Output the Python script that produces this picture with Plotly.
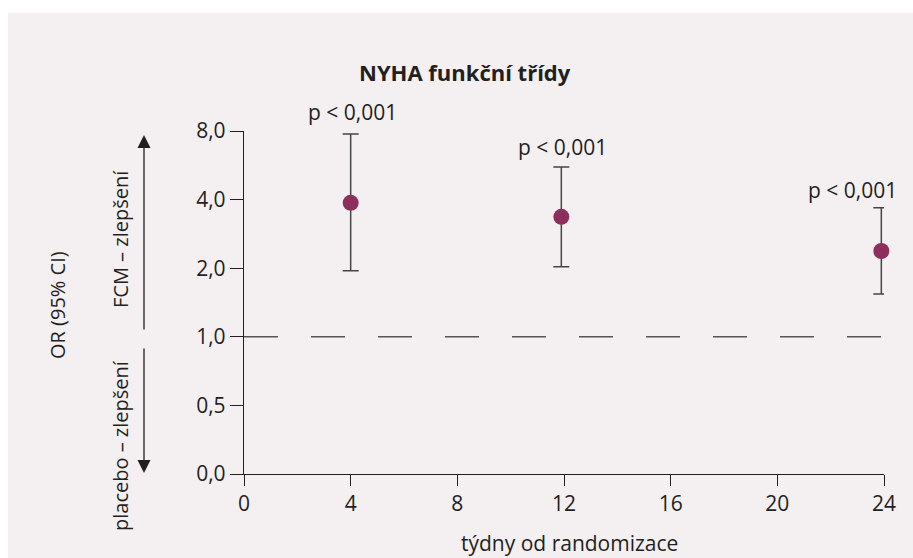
import math
import plotly.graph_objects as go

# týdny od randomizace, OR a 95% CI
weeks = [4, 11.9, 23.9]
odds_ratio = [3.87, 3.36, 2.38]
ci_upper = [7.76, 5.56, 3.68]
ci_lower = [1.95, 2.03, 1.54]
p_labels = ["p < 0,001", "p < 0,001", "p < 0,001"]

x_ticks = [0, 4, 8, 12, 16, 20, 24]
y_ticks = [0.25, 0.5, 1, 2, 4, 8]
y_ticktext = ["0,0", "0,5", "1,0", "2,0", "4,0", "8,0"]

BG = "#f4eff1"
INK = "#231f20"
FONT = "Open Sans"

W, H = 913, 558
L, R, T, B = 244, 29, 131, 84
PW, PH = W - L - R, H - T - B


def px(x):
    return (x - L) / PW


def py(y):
    return (H - B - y) / PH


def label(x, y, text, size, anchor="center", angle=0):
    return dict(x=px(x), y=py(y), xref="paper", yref="paper", text=text,
                showarrow=False, xanchor=anchor, yanchor="middle",
                textangle=angle, font=dict(size=size, color=INK, family=FONT))


fig = go.Figure()

fig.add_trace(go.Scatter(
    x=weeks, y=odds_ratio, mode="markers",
    marker=dict(size=16, color="#8c2f5c"),
    error_y=dict(type="data", symmetric=False,
                 array=[u - v for u, v in zip(ci_upper, odds_ratio)],
                 arrayminus=[v - lo for v, lo in zip(odds_ratio, ci_lower)],
                 color="#444444", thickness=1.5, width=8),
    cliponaxis=False, showlegend=False,
))

# referenční čára OR = 1
fig.add_trace(go.Scatter(
    x=[0, 24], y=[1, 1], mode="lines",
    line=dict(color="#555555", width=1.4, dash="34px,33px"),
    showlegend=False, hoverinfo="skip",
))

fig.update_xaxes(range=[0, 24], tickvals=x_ticks, showline=True, linecolor=INK,
                 linewidth=1.4, ticks="outside", ticklen=11, tickcolor=INK,
                 tickwidth=1.4, showgrid=False, zeroline=False,
                 tickfont=dict(size=21, color=INK, family=FONT))
fig.update_yaxes(type="log", range=[math.log10(0.25), math.log10(8)],
                 tickvals=y_ticks, ticktext=y_ticktext, showline=True,
                 linecolor=INK, linewidth=1.4, ticks="outside", ticklen=13,
                 tickcolor=INK, tickwidth=1.4, showgrid=False, zeroline=False,
                 tickfont=dict(size=21, color=INK, family=FONT))

annotations = []
p_pos = [(352, 112, "center"), (562, 147, "center"), (899, 190, "right")]
for txt, (ax_, ay_, anc) in zip(p_labels, p_pos):
    annotations.append(label(ax_, ay_, txt, 21, anc))

annotations += [
    label(465, 72, "<b>NYHA funkční třídy</b>", 22),
    label(569, 543, "týdny od randomizace", 21),
    label(57, 305, "OR (95% CI)", 20, angle=-90),
    label(120, 239, "FCM – zlepšení", 20, angle=-90),
    label(120, 446, "placebo – zlepšení", 20, angle=-90),
    # šipky
    dict(x=px(144), y=py(135), xref="paper", yref="paper", text="",
         showarrow=True, ax=0, ay=196, arrowhead=2, arrowsize=2,
         arrowwidth=1.3, arrowcolor=INK),
    dict(x=px(144), y=py(473), xref="paper", yref="paper", text="",
         showarrow=True, ax=0, ay=-126, arrowhead=2, arrowsize=2,
         arrowwidth=1.3, arrowcolor=INK),
]

fig.update_layout(
    width=W, height=H,
    margin=dict(l=L, r=R, t=T, b=B),
    paper_bgcolor="white", plot_bgcolor="rgba(0,0,0,0)",
    annotations=annotations,
    shapes=[dict(type="rect", xref="paper", yref="paper", layer="below",
                 x0=px(8), x1=px(W + 2), y0=py(H + 2), y1=py(13),
                 fillcolor=BG, line=dict(width=0))],
)

fig.write_html("out.html", config={"displayModeBar": False},
               post_script="document.body.style.margin='0';")
